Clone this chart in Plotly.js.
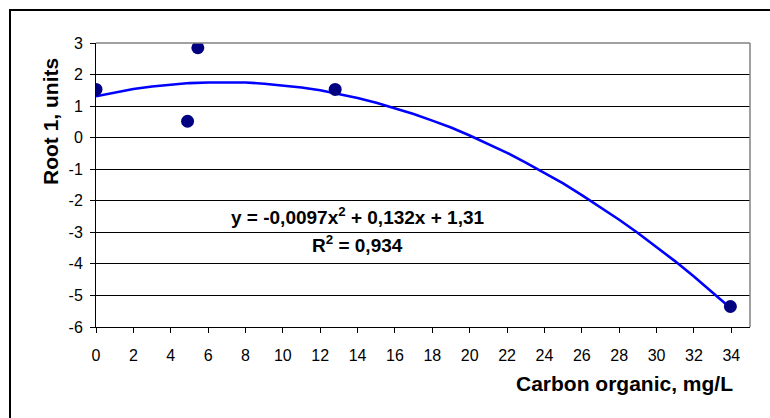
<!DOCTYPE html>
<html>
<head>
<meta charset="utf-8">
<script src="https://cdn.plot.ly/plotly-3.0.1.min.js"></script>
<style>
  html, body { margin: 0; padding: 0; background: #ffffff; overflow: hidden; }
  #wrap { position: relative; width: 770px; height: 418px; }
  #chart { width: 770px; height: 418px; }
  #frame { position: absolute; left: 9px; top: 9px; width: 800px; height: 500px;
           border: 2px solid #000; pointer-events: none; }
</style>
</head>
<body>
<div id="wrap">
  <div id="chart"></div>
  <div id="frame"></div>
</div>
<script>
// Observed points (Carbon organic, mg/L vs Root 1)
const carbonOrganic = [0, 4.9, 5.45, 12.8, 33.95];
const root1 = [1.53, 0.52, 2.85, 1.53, -5.35];

// Polynomial trendline as drawn in the reference
const trendX = [0, 1, 2, 3, 4, 5, 6, 7, 8, 9, 10, 11, 12, 13, 14, 15, 16, 17,
                18, 19, 20, 21, 22, 23, 24, 25, 26, 27, 28, 29, 30, 31, 32, 33, 34];
const trendY = [1.31, 1.43, 1.54, 1.62, 1.68, 1.73, 1.75, 1.76, 1.75, 1.71,
                1.66, 1.59, 1.50, 1.39, 1.26, 1.11, 0.94, 0.75, 0.54, 0.32,
                0.07, -0.20, -0.48, -0.79, -1.11, -1.45, -1.82, -2.20, -2.60,
                -3.02, -3.46, -3.92, -4.40, -4.90, -5.42];

// Tick labels
const xTickVals = [0, 2, 4, 6, 8, 10, 12, 14, 16, 18, 20, 22, 24, 26, 28, 30, 32, 34];
const yTickVals = [-6, -5, -4, -3, -2, -1, 0, 1, 2, 3];
const yTickText = ["-6", "-5", "-4", "-3", "-2", "-1", "0", "1", "2", "3"];

// Texts
const xTitle = "Carbon organic, mg/L";
const yTitle = "Root 1, units";
const eqText = "y = -0,0097x<sup>2</sup> + 0,132x + 1,31";
const r2Text = "R<sup>2</sup> = 0,934";

const FONT = "Liberation Sans, Arial, sans-serif";

const traces = [
  {
    x: trendX, y: trendY, type: "scatter", mode: "lines",
    line: { color: "#0000FF", width: 2.6 },
    hoverinfo: "skip"
  },
  {
    x: carbonOrganic, y: root1, type: "scatter", mode: "markers",
    marker: { color: "#000080", size: 13, line: { width: 0 } }
  }
];

const layout = {
  width: 770, height: 418,
  margin: { l: 96, r: 20, t: 43, b: 91 },
  paper_bgcolor: "#ffffff",
  plot_bgcolor: "#ffffff",
  showlegend: false,
  font: { family: FONT, size: 16, color: "#000" },
  xaxis: {
    range: [0, 35],
    tickvals: xTickVals,
    ticks: "outside", ticklen: 5, tickwidth: 1, tickcolor: "#000",
    ticklabelstandoff: 9,
    showline: true, linecolor: "#000", linewidth: 1,
    showgrid: false, zeroline: false,
    tickfont: { family: FONT, size: 16, color: "#000" },
    fixedrange: true
  },
  yaxis: {
    range: [-6, 3],
    tickvals: yTickVals, ticktext: yTickText,
    ticks: "outside", ticklen: 5, tickwidth: 1, tickcolor: "#000",
    ticklabelstandoff: 4,
    showline: true, linecolor: "#000", linewidth: 1,
    showgrid: true, gridcolor: "#000", gridwidth: 1,
    zeroline: false,
    tickfont: { family: FONT, size: 16, color: "#000" },
    fixedrange: true
  },
  shapes: [
    { type: "line", xref: "paper", yref: "paper", x0: 0, x1: 1, y0: 1, y1: 1,
      line: { color: "#808080", width: 1.5 }, layer: "above" },
    { type: "line", xref: "paper", yref: "paper", x0: 1, x1: 1, y0: 0, y1: 1,
      line: { color: "#808080", width: 1.5 }, layer: "above" }
  ],
  annotations: [
    { text: "<b>" + eqText + "</b>", xref: "x", yref: "y", x: 14.0, y: -2.48,
      showarrow: false, xanchor: "center", yanchor: "middle",
      font: { family: FONT, size: 19, color: "#000" } },
    { text: "<b>" + r2Text + "</b>", xref: "x", yref: "y", x: 14.0, y: -3.37,
      showarrow: false, xanchor: "center", yanchor: "middle",
      font: { family: FONT, size: 19, color: "#000" } },
    { text: "<b>" + xTitle + "</b>", xref: "paper", yref: "paper",
      x: (735 - 96) / 654, y: -(383 - 327) / 284,
      showarrow: false, xanchor: "right", yanchor: "middle",
      font: { family: FONT, size: 21, color: "#000" } },
    { text: "<b>" + yTitle + "</b>", xref: "paper", yref: "paper",
      x: (51 - 96) / 654, y: (327 - 122) / 284, textangle: -90,
      showarrow: false, xanchor: "center", yanchor: "middle",
      font: { family: FONT, size: 21, color: "#000" } }
  ]
};

Plotly.newPlot("chart", traces, layout, { displayModeBar: false, staticPlot: true });
</script>
</body>
</html>
